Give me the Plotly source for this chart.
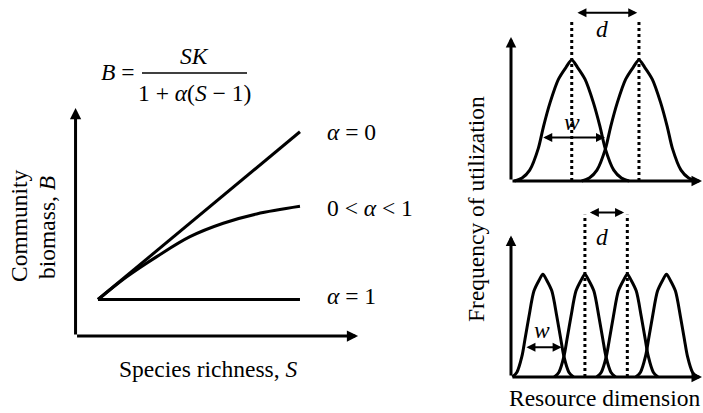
import plotly.graph_objects as go

# ---------------- data ----------------
# Left panel: community biomass B vs species richness S (K = 1)
S_line = [1, 10]
B_alpha0 = [1, 10]          # alpha = 0  (straight line)
B_alpha1 = [1, 1]           # alpha = 1  (flat line)
S_mid = [1, 2.28, 3.62, 5.10, 6.58, 8.07, 10]
B_mid = [1, 2.22, 3.30, 4.37, 5.09, 5.59, 6.0]   # 0 < alpha < 1
curve_labels = ["<i>α</i> = 0", "0 < <i>α</i> < 1", "<i>α</i> = 1"]
curve_label_B = [10.0, 5.92, 1.2]

# Right panels: resource-utilisation curves along a resource dimension
top_centers = [3.18, 6.70]
top_offsets = [-3.0, -2.6, -2.2, -1.75, -1.48, -1.13, -0.70, -0.3, 0,
               0.3, 0.70, 1.13, 1.48, 1.75, 2.2, 2.6, 3.0]
top_heights = [0, 0.025, 0.09, 0.27, 0.45, 0.65, 0.84, 0.94, 1.0,
               0.94, 0.84, 0.65, 0.45, 0.27, 0.09, 0.025, 0]
bot_centers = [1.67, 3.87, 6.09, 8.14]
bot_offsets = [-1.6, -1.36, -1.1, -0.94, -0.73, -0.47, -0.2, 0,
               0.2, 0.47, 0.73, 0.94, 1.1, 1.36, 1.6]
bot_heights = [0, 0.04, 0.17, 0.31, 0.50, 0.71, 0.80, 0.85,
               0.80, 0.71, 0.50, 0.31, 0.17, 0.04, 0]

# width (w) and distance (d) markers
top_w = [1.61, 4.92, 0.36]     # x-from, x-to, height
bot_w = [0.73, 2.65, 0.245]
top_d_height = 1.39
bot_d_height = 1.36

W, H = 703, 413
FONT = "Liberation Serif"
FS = 23.5


def px(x):
    return x / W


def py(y):
    return 1 - y / H


fig = go.Figure()
line = dict(color="black", width=3)

# left panel curves
fig.add_trace(go.Scatter(x=S_line, y=B_alpha0, mode="lines", line=line,
                         xaxis="x", yaxis="y"))
fig.add_trace(go.Scatter(x=S_mid, y=B_mid, mode="lines",
                         line=dict(color="black", width=3, shape="spline"),
                         xaxis="x", yaxis="y"))
fig.add_trace(go.Scatter(x=S_line, y=B_alpha1, mode="lines", line=line,
                         xaxis="x", yaxis="y"))

# right panels: bell curves
for c in top_centers:
    fig.add_trace(go.Scatter(x=[c + o for o in top_offsets], y=top_heights,
                             mode="lines",
                             line=dict(color="black", width=3, shape="spline",
                                       smoothing=0.8),
                             xaxis="x2", yaxis="y2"))
for c in bot_centers:
    fig.add_trace(go.Scatter(x=[c + o for o in bot_offsets], y=bot_heights,
                             mode="lines",
                             line=dict(color="black", width=3, shape="spline",
                                       smoothing=0.8),
                             xaxis="x3", yaxis="y3"))

# dotted guide lines through the peaks used for d
for c in top_centers:
    fig.add_trace(go.Scatter(x=[c, c], y=[0, 1.33], mode="lines",
                             line=dict(color="black", width=3, dash="dot"),
                             xaxis="x2", yaxis="y2"))
for c in bot_centers[1:3]:
    fig.add_trace(go.Scatter(x=[c, c], y=[0, 1.34], mode="lines",
                             line=dict(color="black", width=3, dash="dot"),
                             xaxis="x3", yaxis="y3"))

ann = []


def arrow(xr, yr, x0, y0, x1, y1, both=False, width=3, size=0.75):
    ann.append(dict(x=x1, y=y1, ax=x0, ay=y0, xref=xr, yref=yr,
                    axref=xr, ayref=yr, text="", showarrow=True,
                    arrowhead=2, arrowsize=size, arrowwidth=width,
                    arrowcolor="black",
                    arrowside="end+start" if both else "end",
                    standoff=0, startstandoff=0))


def text(t, x, y, xr="paper", yr="paper", xanchor="center", yanchor="middle",
         angle=0, size=FS):
    ann.append(dict(text=t, x=x, y=y, xref=xr, yref=yr, showarrow=False,
                    xanchor=xanchor, yanchor=yanchor, textangle=angle,
                    font=dict(family=FONT, size=size, color="black")))


# left panel axes
arrow("x", "y", 0, -0.96, 0, 11.27)
arrow("x", "y", 0, -0.96, 12.59, -0.96)
# right panel axes
arrow("x2", "y2", 0, 0, 0, 1.19, size=0.7)
arrow("x2", "y2", 0, 0, 10.0, 0, size=0.7)
arrow("x3", "y3", 0, 0, 0, 1.17, size=0.7)
arrow("x3", "y3", 0, 0, 10.0, 0, size=0.7)

# d and w markers
arrow("x2", "y2", 3.40, top_d_height, 6.61, top_d_height, both=True,
      width=2, size=0.9)
arrow("x2", "y2", top_w[0], top_w[2], top_w[1], top_w[2], both=True,
      width=2, size=0.9)
arrow("x3", "y3", 4.05, bot_d_height, 5.92, bot_d_height, both=True,
      width=2, size=0.9)
arrow("x3", "y3", bot_w[0], bot_w[2], bot_w[1], bot_w[2], both=True,
      width=2, size=0.9)
text("<i>d</i>", 4.75, 1.26, "x2", "y2")
text("<i>w</i>", 3.18, 0.49, "x2", "y2")
text("<i>d</i>", 4.75, 1.155, "x3", "y3")
text("<i>w</i>", 1.64, 0.39, "x3", "y3")

# curve labels
for lab, b in zip(curve_labels, curve_label_B):
    text(lab, 11.12, b, "x", "y", xanchor="left")

# equation
text("<i>B</i> =", px(118), py(72))
text("<i>SK</i>", px(194), py(56))
text("1 + <i>α</i>(<i>S</i> − 1)", px(194), py(93))

# axis titles
text("Species richness, <i>S</i>", px(208), py(369))
text("Community", px(19), py(226), angle=-90)
text("biomass, <i>B</i>", px(47), py(228), angle=-90)
text("Frequency of utilization", px(476), py(209), angle=-90)
text("Resource dimension", px(604), 0.0, yanchor="bottom")

fig.update_layout(
    width=W, height=H, margin=dict(l=0, r=0, t=0, b=0),
    paper_bgcolor="white", plot_bgcolor="white", showlegend=False,
    annotations=ann,
    shapes=[dict(type="line", xref="paper", yref="paper",
                 x0=px(142), x1=px(247), y0=py(73), y1=py(73),
                 line=dict(color="black", width=1.3))],
    xaxis=dict(domain=[px(60), px(370)], range=[-0.693, 13.12], visible=False),
    yaxis=dict(domain=[py(345), py(100)], range=[-1.441, 11.703], visible=False),
    xaxis2=dict(domain=[px(505), 1.0], range=[-0.314, 10.052], visible=False),
    yaxis2=dict(domain=[py(190), py(3)], range=[-0.0744, 1.4711], visible=False),
    xaxis3=dict(domain=[px(505), 1.0], range=[-0.314, 10.052], visible=False,
                anchor="y3"),
    yaxis3=dict(domain=[py(386), py(200)], range=[-0.0744, 1.4628],
                visible=False, anchor="x3"),
)
fig.update_layout(xaxis2_anchor="y2", yaxis2_anchor="x2")

fig.write_html("out.html")
